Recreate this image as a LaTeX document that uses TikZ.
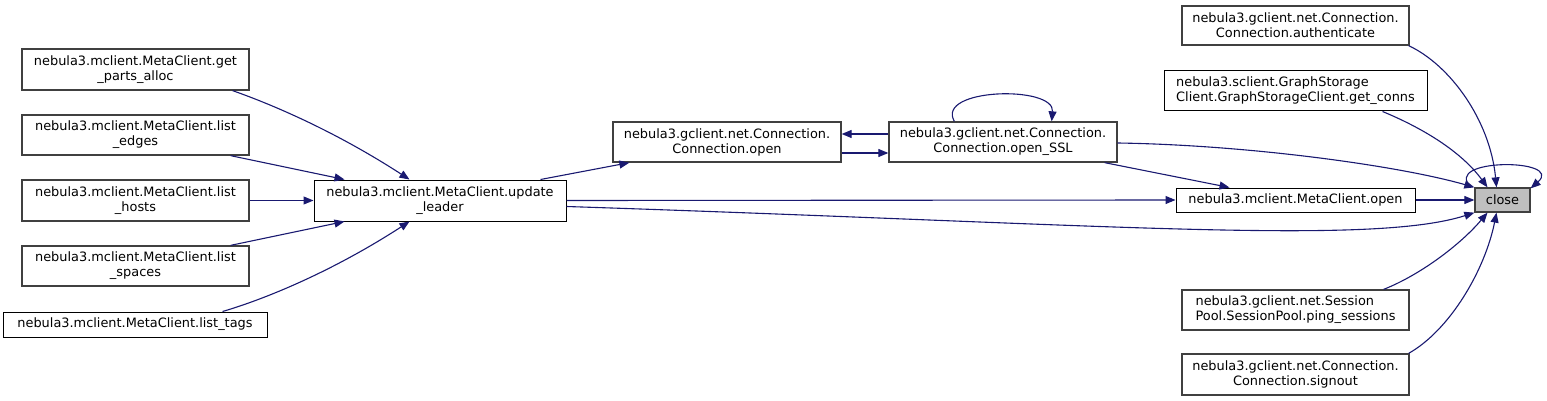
\documentclass[tikz,border=0pt]{standalone}
\usepackage{fontspec}
\setmainfont{DejaVu Sans}
\usetikzlibrary{arrows.meta}
\definecolor{edgeblue}{HTML}{191970}
\definecolor{boxgrey}{HTML}{404040}
\definecolor{closefill}{HTML}{BFBFBF}
\tikzset{
  fn/.style={draw=black, line width=1pt, fill=white, inner sep=0pt,
    font=\fontsize{12.9}{15}\selectfont, align=center, minimum height=40pt},
  fng/.style={fn, draw=boxgrey, line width=1.3pt},
  ce/.style={draw=edgeblue, line width=1.1pt, -{Triangle[length=10pt,width=8pt]}}
}
\begin{document}
\begin{tikzpicture}[x=1pt,y=-1pt]
\useasboundingbox (0,0) rectangle (1547,401);
% left column
\node[fng, minimum width=227pt, minimum height=41pt] (gpa) at (135.5,69.5) {nebula3.mclient.MetaClient.get\\\_parts\_alloc};
\node[fng, minimum width=227pt] (le) at (135.5,135) {nebula3.mclient.MetaClient.list\\\_edges};
\node[fng, minimum width=227pt, minimum height=41pt] (lh) at (135.5,200.5) {nebula3.mclient.MetaClient.list\\\_hosts};
\node[fng, minimum width=227pt] (ls) at (135.5,266) {nebula3.mclient.MetaClient.list\\\_spaces};
\node[fn, minimum width=264pt, minimum height=25pt] (lt) at (135,324.5) {nebula3.mclient.MetaClient.list\_tags};
% middle
\node[fn, minimum width=252pt, minimum height=41pt] (ul) at (440,200.5) {nebula3.mclient.MetaClient.update\\\_leader};
\node[fng, minimum width=228pt] (co) at (727,142) {nebula3.gclient.net.Connection.\\Connection.open};
\node[fng, minimum width=228pt] (os) at (1003,142) {nebula3.gclient.net.Connection.\\Connection.open\_SSL};
\node[fn, minimum width=239pt, minimum height=24pt] (mo) at (1295.5,200) {nebula3.mclient.MetaClient.open};
\node[fng, fill=closefill, minimum width=55pt, minimum height=24pt] (cl) at (1502.5,200) {close};
% right column
\node[fng, minimum width=227pt, minimum height=39pt] (au) at (1295.5,25.5) {nebula3.gclient.net.Connection.\\Connection.authenticate};
\node[fn, align=left, minimum width=263pt] (gc) at (1295.5,91) {nebula3.sclient.GraphStorage\\Client.GraphStorageClient.get\_conns};
\node[fng, align=left, minimum width=227pt] (ps) at (1295.5,310) {nebula3.gclient.net.Session\\Pool.SessionPool.ping\_sessions};
\node[fng, minimum width=227pt, minimum height=41pt] (so) at (1295.5,374.5) {nebula3.gclient.net.Connection.\\Connection.signout};
% edges into update_leader
\draw[ce] ([xshift=-17pt]gpa.south east) .. controls (265,102) and (330,128) .. ([xshift=96pt]ul.north west);
\draw[ce] ([xshift=-19pt]le.south east) -- ([xshift=31pt]ul.north west);
\draw[ce] (lh.east) -- (ul.west);
\draw[ce] ([xshift=-19pt]ls.north east) -- ([xshift=31pt]ul.south west);
\draw[ce] ([xshift=-45pt]lt.north east) .. controls (262,300) and (330,273) .. ([xshift=96pt]ul.south west);
% update_leader / connection
\draw[ce] ([xshift=-26pt]ul.north east) -- ([xshift=17pt]co.south west);
\draw[ce] ([yshift=8pt]os.west) -- ([yshift=8pt]co.east);
\draw[ce] ([yshift=-11pt]co.east) -- ([yshift=-11pt]os.west);
\draw[ce] ([xshift=66pt]os.north west) .. controls (935,88) and (1055,85) .. ([xshift=-66pt]os.north east);
\draw[ce] ([yshift=-1pt]os.east) .. controls (1250,145) and (1400,166) .. (cl.north west);
\draw[ce] ([xshift=-13pt]os.south east) -- ([xshift=54pt]mo.north west);
\draw[ce] (ul.east) -- (mo.west);
\draw[ce] ([yshift=-6pt]ul.east) .. controls (1100,224) and (1370,246) .. (cl.south west);
\draw[ce] (mo.east) -- (cl.west);
% right column into close
\draw[ce] ([xshift=-1pt]au.south east) .. controls (1450,65) and (1490,120) .. ([xshift=-6pt]cl.north);
\draw[ce] ([xshift=-45pt]gc.south east) .. controls (1420,127) and (1460,150) .. ([xshift=-15pt]cl.north);
\draw[ce] ([xshift=-26pt]ps.north east) .. controls (1420,275) and (1460,245) .. ([xshift=-15pt]cl.south);
\draw[ce] ([xshift=-1pt]so.north east) .. controls (1450,330) and (1485,270) .. ([xshift=-6pt]cl.south);
\draw[ce] ([xshift=-3pt]cl.north west) .. controls (1440,158) and (1565,158) .. ([yshift=-1pt]cl.north east);
\end{tikzpicture}
\end{document}
